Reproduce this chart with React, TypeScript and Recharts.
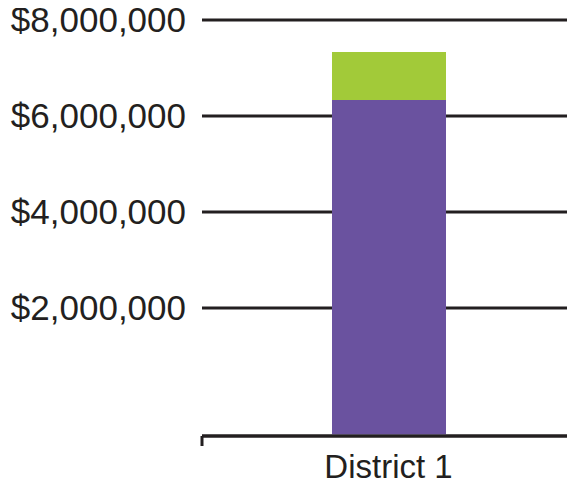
import { BarChart, Bar, XAxis, YAxis, CartesianGrid } from "recharts";

const districts = ["District 1"];
const baseFunding = [6335000];
const addedFunding = [1000000];
const yTicks = [2000000, 4000000, 6000000, 8000000];

const data = districts.map((name, i) => ({
  name,
  base: baseFunding[i],
  added: addedFunding[i],
}));

const INK = "#231f20";
const PURPLE = "#6a529f";
const GREEN = "#a2ca39";
const FONT = "'Liberation Sans', Arial, Helvetica, sans-serif";
const X_TICK_MARGIN = 20;

const money = (v: number) => "$" + v.toLocaleString("en-US");

// the bottom segment runs down to the axis line, like the original
function BaseBar(props: any) {
  const { x, y, width, height, fill, background } = props;
  let h = height;
  if (background) h = background.y + background.height - y - 1.5;
  return <rect x={x} y={y} width={width} height={Math.max(h, 0)} fill={fill} />;
}

// category label plus tick marks on the band edges (excel style)
function DistrictTick(props: any) {
  const { x, y, payload } = props;
  const half = payload?.offset ?? 0;
  const axisY = y - X_TICK_MARGIN;
  return (
    <g>
      <line x1={x - half} x2={x - half} y1={axisY} y2={axisY + 10} stroke={INK} strokeWidth={3} />
      <line x1={x + half - 1} x2={x + half - 1} y1={axisY} y2={axisY + 10} stroke={INK} strokeWidth={3} />
      <text x={x} y={axisY + 42} textAnchor="middle" fill={INK} fontSize={33} fontFamily={FONT}>
        {payload.value}
      </text>
    </g>
  );
}

export default function App() {
  return (
    <div style={{ marginTop: -8 }}>
      <BarChart
        width={567}
        height={486}
        data={data}
        margin={{ top: 20, right: 0, bottom: 0, left: 0 }}
      >
        <CartesianGrid vertical={false} stroke={INK} strokeWidth={3} />
        <XAxis
          dataKey="name"
          height={50}
          axisLine={{ stroke: INK, strokeWidth: 3 }}
          tickLine={false}
          tickSize={0}
          tickMargin={X_TICK_MARGIN}
          tick={<DistrictTick />}
        />
        <YAxis
          domain={[0, 8000000]}
          ticks={yTicks}
          interval={0}
          padding={{ top: 0, bottom: 32 }}
          width={194}
          axisLine={false}
          tickLine={false}
          tickSize={0}
          tickMargin={16}
          tickFormatter={money}
          tick={{ fill: INK, fontSize: 35, fontFamily: FONT }}
        />
        <Bar
          dataKey="base"
          stackId="a"
          fill={PURPLE}
          barSize={114}
          shape={BaseBar}
          isAnimationActive={false}
        />
        <Bar
          dataKey="added"
          stackId="a"
          fill={GREEN}
          barSize={114}
          isAnimationActive={false}
        />
      </BarChart>
    </div>
  );
}
